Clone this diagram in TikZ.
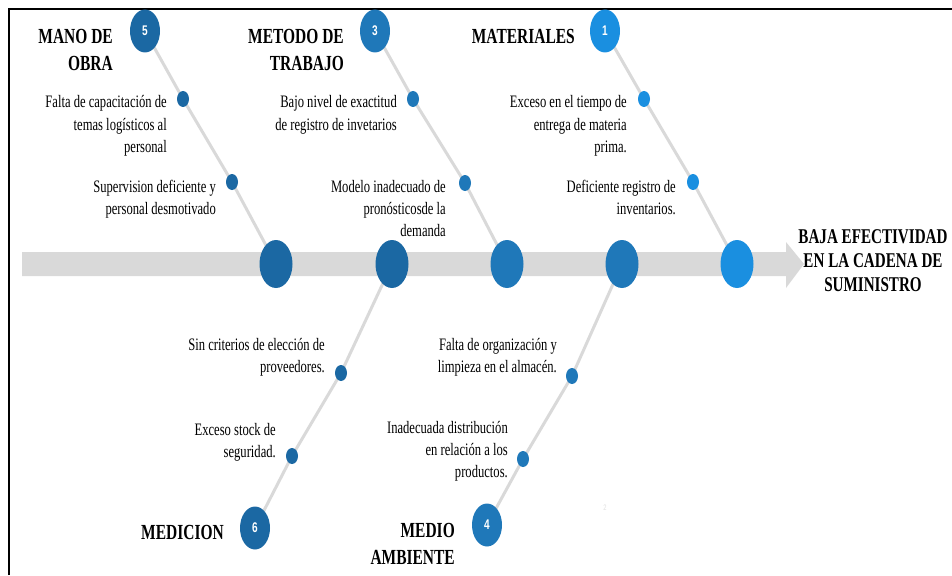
\documentclass[tikz,border=0pt]{standalone}
\usepackage{fontspec}
\setmainfont{Liberation Serif}[FakeStretch=0.72]
\newfontfamily\numfont{Liberation Sans}[FakeStretch=0.72]
\usetikzlibrary{shapes.geometric,backgrounds}
\definecolor{boneGray}{HTML}{D9D9D9}
\definecolor{blueDark}{HTML}{1B68A3}
\definecolor{blueMid}{HTML}{1F78B9}
\definecolor{blueLight}{HTML}{1A8FE0}
% multi-line nodes are placed by the baseline of their last line
\tikzset{
  heading/.style={font=\fontsize{21.5}{27}\selectfont\bfseries, align=right, anchor=base east, inner sep=0pt},
  cause/.style={font=\fontsize{17.5}{22}\selectfont, align=right, anchor=base east, inner sep=0pt},
  numtag/.style={ellipse, minimum width=30pt, minimum height=43pt, inner sep=0pt,
    text=white, font=\numfont\fontsize{14}{16}\selectfont\bfseries},
  joint/.style={ellipse, minimum width=33pt, minimum height=48pt, inner sep=0pt},
  bead/.style={ellipse, minimum width=12pt, minimum height=16pt, inner sep=0pt},
  bone/.style={draw=boneGray, line width=3pt}
}
\begin{document}
\begin{tikzpicture}[x=1pt,y=-1pt]
\useasboundingbox (0,0) rectangle (952,575);

% frame
\draw[line width=2pt] (8.5,575) -- (8.5,9) -- (952,9);

% spine arrow
\fill[boneGray] (22,252) -- (786,252) -- (786,242) -- (804,264)
  -- (786,288) -- (786,276) -- (22,276) -- cycle;

% joints on the spine
\node[joint, fill=blueDark]  (j5) at (276,264) {};
\node[joint, fill=blueDark]  (j6) at (392,264) {};
\node[joint, fill=blueMid]   (j3) at (507,264) {};
\node[joint, fill=blueMid]   (j4) at (622,264) {};
\node[joint, fill=blueLight] (j1) at (737,264) {};

% numbered category tags
\node[numtag, fill=blueDark]  (n5) at (145,31) {5};
\node[numtag, fill=blueMid]   (n3) at (375,31) {3};
\node[numtag, fill=blueLight] (n1) at (605,31) {1};
\node[numtag, fill=blueDark]  (n6) at (255,528) {6};
\node[numtag, fill=blueMid]   (n4) at (487,525) {4};

% beads marking each cause
\node[bead, fill=blueDark]  (b5a) at (183,99) {};
\node[bead, fill=blueDark]  (b5b) at (232,182) {};
\node[bead, fill=blueMid]   (b3a) at (413,99) {};
\node[bead, fill=blueMid]   (b3b) at (465,183) {};
\node[bead, fill=blueLight] (b1a) at (644,99) {};
\node[bead, fill=blueLight] (b1b) at (693,182) {};
\node[bead, fill=blueDark]  (b6a) at (341,373) {};
\node[bead, fill=blueDark]  (b6b) at (292,456) {};
\node[bead, fill=blueMid]   (b4a) at (572,376) {};
\node[bead, fill=blueMid]   (b4b) at (523,459) {};

% bones
\begin{pgfonlayer}{background}
  \draw[bone] (n5.center) -- (b5a.center) -- (b5b.center) -- (j5.center);
  \draw[bone] (n3.center) -- (b3a.center) -- (b3b.center) -- (j3.center);
  \draw[bone] (n1.center) -- (b1a.center) -- (b1b.center) -- (j1.center);
  \draw[bone] (j6.center) -- (b6a.center) -- (b6b.center) -- (n6.center);
  \draw[bone] (j4.center) -- (b4a.center) -- (b4b.center) -- (n4.center);
\end{pgfonlayer}

% category headings
\node[heading] (h5) at (113,70.5) {MANO DE\\OBRA};
\node[heading] (h3) at (344,70.5) {METODO DE\\TRABAJO};
\node[heading] (h1) at (575,43.5) {MATERIALES};
\node[heading] (h6) at (224,539.5) {MEDICION};
\node[heading] (h4) at (455,564) {MEDIO\\AMBIENTE};

% effect
\node[font=\fontsize{21}{24}\selectfont\bfseries, align=center, anchor=base, inner sep=0pt]
  (effect) at (873,291) {BAJA EFECTIVIDAD\\EN LA CADENA DE\\SUMINISTRO};

% causes
\node[cause] (c5a) at (167,152) {Falta de capacitación de\\temas logísticos al\\personal};
\node[cause] (c5b) at (216,214) {Supervision deficiente y\\personal desmotivado};
\node[cause] (c3a) at (397,130) {Bajo nivel de exactitud\\de registro de invetarios};
\node[cause] (c3b) at (446,236) {Modelo inadecuado de\\pronósticosde la\\demanda};
\node[cause] (c1a) at (627,152) {Exceso en el tiempo de\\entrega de materia\\prima.};
\node[cause] (c1b) at (676,214) {Deficiente registro de\\inventarios.};
\node[cause] (c6a) at (325,372) {Sin criterios de elección de\\proveedores.};
\node[cause] (c6b) at (276,457) {Exceso stock de\\seguridad.};
\node[cause] (c4a) at (557,372) {Falta de organización y\\limpieza en el almacén.};
\node[cause] (c4b) at (508,477) {Inadecuada distribución\\en relación a los\\productos.};

% faint stray mark
\node[text=black!12, font=\numfont\fontsize{8}{9}\selectfont, inner sep=0pt] (stray) at (605,508) {2};
\end{tikzpicture}
\end{document}
